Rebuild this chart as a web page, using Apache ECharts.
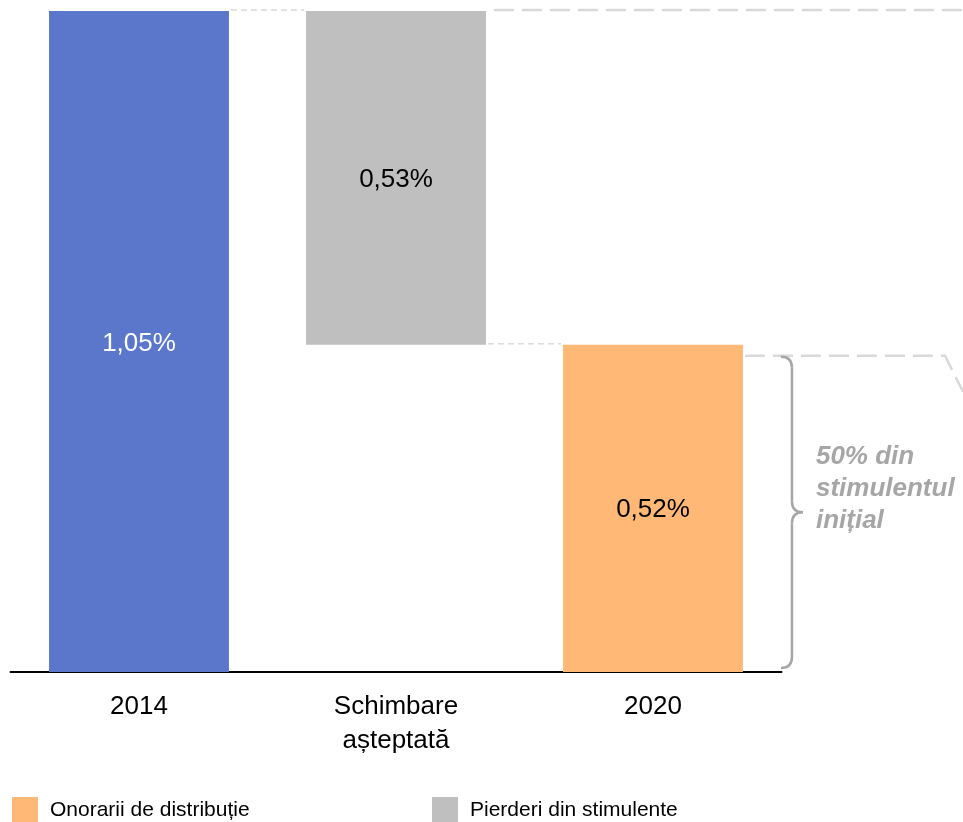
<!DOCTYPE html>
<html>
<head>
<meta charset="utf-8">
<style>
  html, body { margin: 0; padding: 0; background: #ffffff; }
  #chart { width: 963px; height: 822px; }
</style>
<script src="https://cdn.jsdelivr.net/npm/echarts@6/dist/echarts.min.js"></script>
</head>
<body>
<div id="chart"></div>
<script>
// ---- data ----
const categories = ['2014', 'Schimbare\nașteptată', '2020'];
const startValues = [1.05, null, null];       // 2014 level
const changeValues = [null, 0.53, null];      // Pierderi din stimulente
const endValues = [null, null, 0.52];         // Onorarii de distribuție (2020)
const baseValues = [null, 0.52, null];        // invisible base of the floating bar
const labelTexts = ['1,05%', '0,53%', '0,52%'];
const seriesNames = ['2014', 'Pierderi din stimulente', 'Onorarii de distribuție'];
const annotationLines = ['50% din', 'stimulentul', 'inițial'];

const FONT = '"Liberation Sans", Arial, sans-serif';
const colors = { blue: '#5b77cc', gray: '#bfbfbf', orange: '#ffb875' };

const chart = echarts.init(document.getElementById('chart'), null, { renderer: 'canvas' });

function labelFor(idx, color) {
  return {
    show: true, position: 'inside', color: color,
    fontFamily: FONT, fontSize: 26, offset: [0, 2],
    formatter: () => labelTexts[idx]
  };
}

const option = {
  animation: false,
  backgroundColor: '#ffffff',
  grid: { left: 10.5, right: 181.5, top: 11, bottom: 150, containLabel: false },
  legend: [
    {
      data: [seriesNames[2]], left: 12, top: 797, padding: 0,
      itemWidth: 26, itemHeight: 26, icon: 'rect',
      textStyle: { fontFamily: FONT, fontSize: 21, color: '#000', padding: [0, 0, 0, 7] }
    },
    {
      data: [seriesNames[1]], left: 432, top: 797, padding: 0,
      itemWidth: 26, itemHeight: 26, icon: 'rect',
      textStyle: { fontFamily: FONT, fontSize: 21, color: '#000', padding: [0, 0, 0, 7] }
    }
  ],
  xAxis: {
    type: 'category', data: categories,
    axisLine: { show: true, lineStyle: { color: '#000', width: 2 } },
    axisTick: { show: false },
    axisLabel: { fontFamily: FONT, fontSize: 26, color: '#000', margin: 18, lineHeight: 34 }
  },
  yAxis: {
    type: 'value', min: 0, max: 1.05, show: false,
    splitLine: { show: false }
  },
  series: [
    {
      name: 'base', type: 'bar', stack: 'w', data: baseValues, barWidth: '70%',
      itemStyle: { color: 'transparent' }, silent: true
    },
    {
      name: seriesNames[0], type: 'bar', stack: 'w', data: startValues, barWidth: '70%',
      itemStyle: { color: colors.blue }, label: labelFor(0, '#ffffff')
    },
    {
      name: seriesNames[1], type: 'bar', stack: 'w', data: changeValues, barWidth: '70%',
      itemStyle: { color: colors.gray }, label: labelFor(1, '#000000')
    },
    {
      name: seriesNames[2], type: 'bar', stack: 'w', data: endValues, barWidth: '70%',
      itemStyle: { color: colors.orange }, label: labelFor(2, '#000000')
    }
  ]
};
chart.setOption(option);

// ---- decorations positioned from the chart's own scales ----
function px(catIdx, val) {
  return chart.convertToPixel({ xAxisIndex: 0, yAxisIndex: 0 }, [catIdx, val]);
}
const band = px(1, 0)[0] - px(0, 0)[0];
const half = band * 0.7 / 2;
const yTop = px(0, startValues[0])[1];
const yEnd = px(2, endValues[2])[1];
const yZero = px(0, 0)[1];
const c0 = px(0, 0)[0], c1 = px(1, 0)[0], c2 = px(2, 0)[0];
const dashColor = '#d9d9d9';

const bx = c2 + half + 49;     // bracket spine x
const bTop = yEnd + 12, bBot = yZero - 4, bMid = (bTop + bBot) / 2;
const r = 11;
const braceStyle = { stroke: '#a6a6a6', lineWidth: 2.5, fill: null };

function curve(x1, y1, cx, cy, x2, y2) {
  return { type: 'bezierCurve', shape: { x1, y1, x2, y2, cpx1: cx, cpy1: cy }, style: braceStyle };
}

const graphics = [
  { type: 'line', shape: { x1: c0 + half + 2, y1: yTop - 1, x2: c1 - half - 2, y2: yTop - 1 },
    style: { stroke: '#e3e3e3', lineWidth: 2, lineDash: [6, 4] } },
  { type: 'line', shape: { x1: c1 + half + 8, y1: yTop - 1, x2: 963, y2: yTop - 1 },
    style: { stroke: dashColor, lineWidth: 2.5, lineDash: [20, 8] } },
  { type: 'line', shape: { x1: c1 + half + 2, y1: yEnd - 1, x2: c2 - half - 2, y2: yEnd - 1 },
    style: { stroke: '#dcdcdc', lineWidth: 1.5, lineDash: [6, 4] } },
  { type: 'polyline', shape: { points: [[c2 + half + 2, yEnd + 11], [945, yEnd + 11], [963, yEnd + 47]] },
    style: { stroke: dashColor, lineWidth: 2.5, lineDash: [20, 8], fill: null } },
  curve(bx - r, bTop, bx, bTop, bx, bTop + r),
  { type: 'line', shape: { x1: bx, y1: bTop + r, x2: bx, y2: bMid - r }, style: braceStyle },
  curve(bx, bMid - r, bx, bMid, bx + r, bMid),
  curve(bx + r, bMid, bx, bMid, bx, bMid + r),
  { type: 'line', shape: { x1: bx, y1: bMid + r, x2: bx, y2: bBot - r }, style: braceStyle },
  curve(bx, bBot - r, bx, bBot, bx - r, bBot),
  { type: 'text', x: bx + 24, y: bMid - 23,
    style: {
      text: annotationLines.join('\n'), fill: '#a6a6a6',
      font: 'italic bold 26px "Liberation Sans", Arial, sans-serif',
      lineHeight: 32, verticalAlign: 'middle', align: 'left'
    } }
];
chart.setOption({ graphic: graphics });
</script>
</body>
</html>
